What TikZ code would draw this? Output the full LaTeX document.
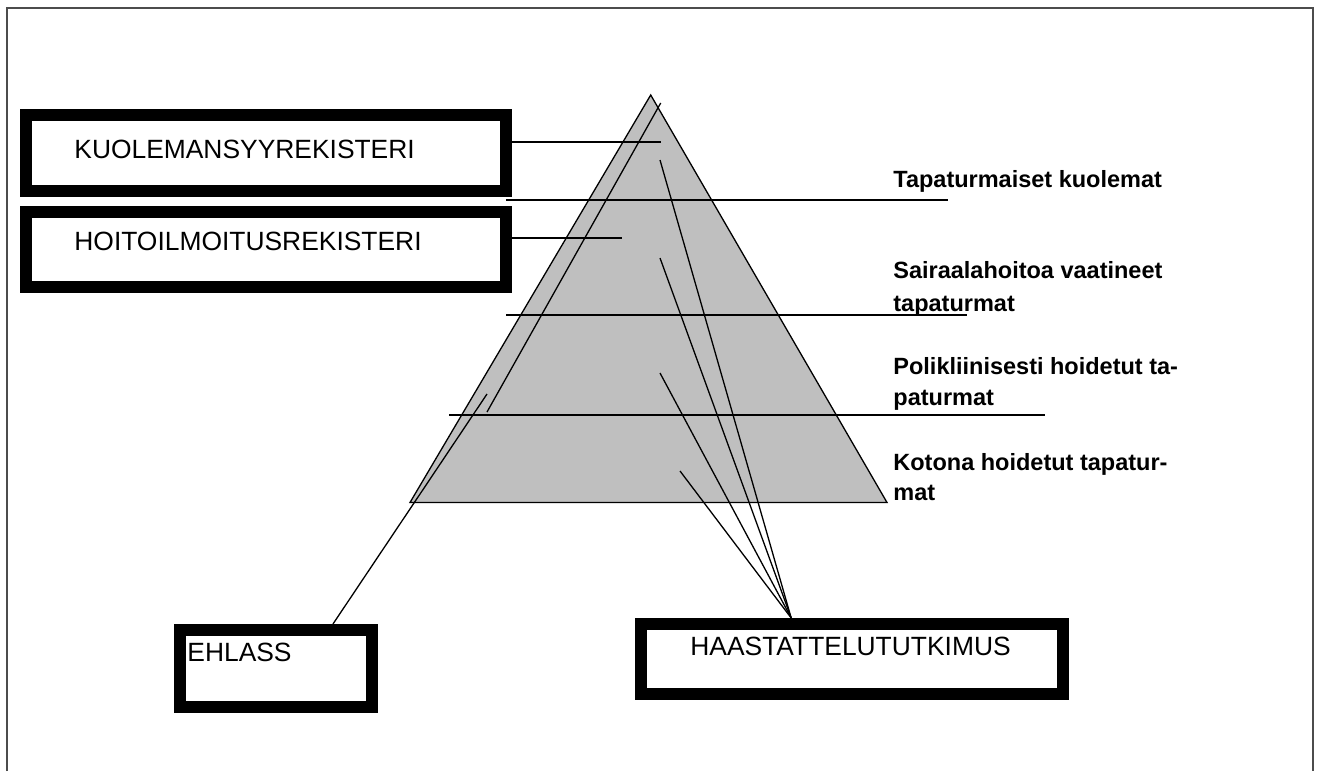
\documentclass[tikz,border=0pt]{standalone}
\usepackage{fontspec}
\setmainfont{Liberation Sans}

\begin{document}
\begin{tikzpicture}[x=0.5pt, y=-0.5pt,
    regbox/.style={draw, rectangle, line width=6pt, fill=white, inner sep=0pt},
    boxtext/.style={anchor=base west, inner sep=0pt, font=\fontsize{13.2}{15}\selectfont},
    leveltext/.style={anchor=base west, inner sep=0pt, font=\fontsize{11.75}{14}\selectfont\bfseries},
    thinline/.style={line width=0.65pt},
    levelline/.style={line width=1pt}]
    \useasboundingbox (0,0) rectangle (1320,771);
    % 1. Kehys
    \draw[line width=1pt, black!70] (7,771) -- (7,8) -- (1313,8) -- (1313,771);

    % 2. Pyramidi
    \coordinate (top) at (650.7,95);
    \coordinate (bl) at (410,502.5);
    \coordinate (br) at (887,502.5);
    \filldraw[fill=black!25, thinline] (top) -- (bl) -- (br) -- cycle;

    % 3. Tasojen rajat
    \coordinate (d1a) at (506,200);  \coordinate (d1b) at (948,200);
    \coordinate (d2a) at (506,315);  \coordinate (d2b) at (967,315);
    \coordinate (d3a) at (449,415);  \coordinate (d3b) at (1045,415);
    \draw[levelline] (d1a) -- (d1b);
    \draw[levelline] (d2a) -- (d2b);
    \draw[levelline] (d3a) -- (d3b);

    % 4. Rekisterit ja tutkimukset
    \node[regbox, minimum width=240pt, minimum height=38pt] (kuol) at (266,153) {};
    \node[boxtext] (kuoltxt) at (74,158) {KUOLEMANSYYREKISTERI};
    \node[regbox, minimum width=240pt, minimum height=37.5pt] (hoit) at (266,249.5) {};
    \node[boxtext] (hoittxt) at (74,250) {HOITOILMOITUSREKISTERI};
    \node[regbox, minimum width=96pt, minimum height=38.5pt] (ehl) at (276,668.5) {};
    \node[boxtext] (ehltxt) at (187,661) {EHLASS};
    \node[regbox, minimum width=211pt, minimum height=35pt] (haast) at (852,659) {};
    \node[boxtext] (haasttxt) at (690,655) {HAASTATTELUTUTKIMUS};

    % 5. Yhteydet pyramidiin
    \coordinate (k1) at (661,142);
    \coordinate (h1) at (622,238);
    \draw[levelline] (kuol.east |- k1) -- (k1);
    \draw[levelline] (hoit.east |- h1) -- (h1);
    \coordinate (l1) at (660.7,103);
    \coordinate (l2) at (487,412);
    \draw[thinline] (l1) -- (l2);
    \coordinate (e1) at (487,394);
    \draw[thinline] (ehl.38) -- (e1);
    \coordinate (p1) at (660,160);
    \coordinate (p2) at (660,258);
    \coordinate (p3) at (660,373);
    \coordinate (p4) at (680,471);
    \foreach \p in {p1,p2,p3,p4}
        \draw[thinline] (\p) -- (haast.146);

    % 6. Tasojen nimet
    \node[leveltext] (lab1) at (893,187) {Tapaturmaiset kuolemat};
    \node[leveltext] (lab2a) at (893,278) {Sairaalahoitoa vaatineet};
    \node[leveltext] (lab2b) at (893,311.5) {tapaturmat};
    \node[leveltext] (lab3a) at (893,374) {Polikliinisesti hoidetut ta-};
    \node[leveltext] (lab3b) at (893,405) {paturmat};
    \node[leveltext] (lab4a) at (893,470) {Kotona hoidetut tapatur-};
    \node[leveltext] (lab4b) at (893,500) {mat};
\end{tikzpicture}
\end{document}
